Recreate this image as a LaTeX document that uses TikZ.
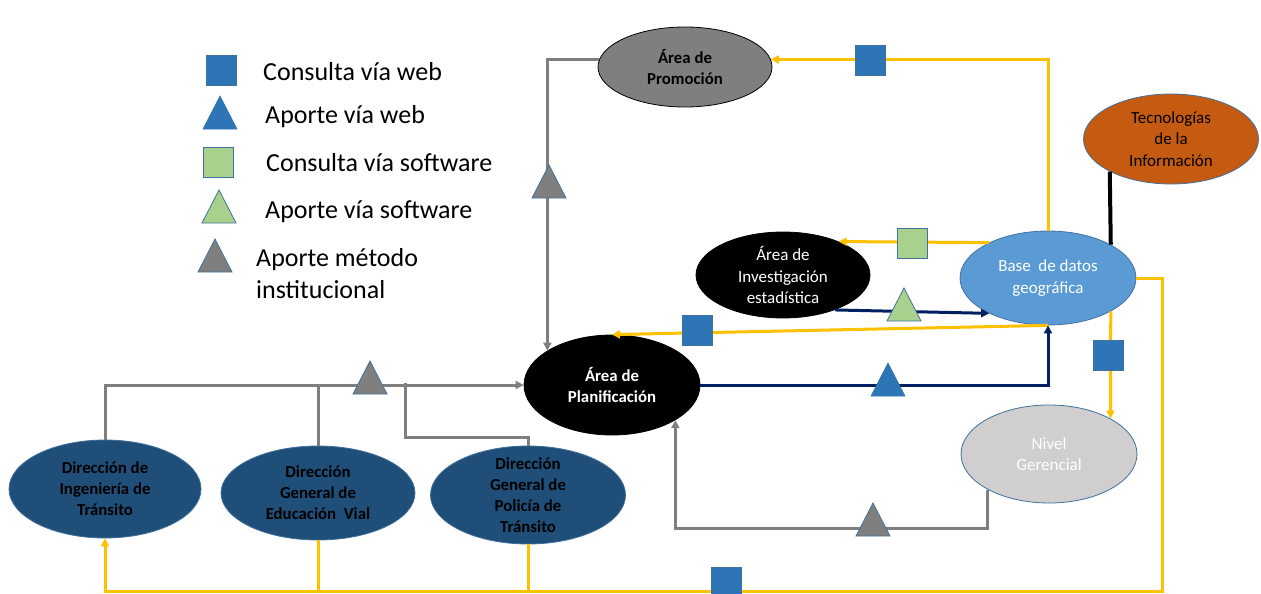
\documentclass[tikz,border=0pt]{standalone}
\usepackage{fontspec}
\setmainfont{Carlito}
\usepackage{tikz}
\usetikzlibrary{arrows.meta,shapes.geometric}

\definecolor{flujo}{HTML}{FFC000}
\definecolor{gris}{HTML}{7F7F7F}
\definecolor{marino}{HTML}{002060}
\definecolor{azulweb}{HTML}{2E75B6}
\definecolor{verdesw}{HTML}{A9D18E}
\definecolor{bordeazul}{HTML}{41719C}
\definecolor{naranja}{HTML}{C55A11}
\definecolor{celeste}{HTML}{5B9BD5}
\definecolor{grisclaro}{HTML}{D0CECE}
\definecolor{azuldir}{HTML}{1F4E79}

\tikzset{
  unidad/.style={ellipse, draw=bordeazul, line width=0.8pt, inner sep=-12pt, align=center,
    font=\fontsize{17}{21.5}\selectfont},
  negrita/.style={font=\bfseries\fontsize{16.8}{21}\selectfont},
  leyenda/.style={anchor=west, inner sep=0pt, align=left, font=\fontsize{26}{32}\selectfont},
  punta/.style={-{Triangle[length=8pt,width=8pt]}},
  amarilla/.style={draw=flujo, line width=3pt},
  grisf/.style={draw=gris, line width=3pt},
  marina/.style={draw=marino, line width=3pt}
}

\begin{document}
\begin{tikzpicture}[x=1pt,y=-1pt]
\useasboundingbox (0,0) rectangle (1261,594);

% leyenda
\node[leyenda] (lcw) at (263,72) {Consulta vía web};
\node[leyenda] (law) at (265,117) {Aporte vía web};
\node[leyenda] (lcs) at (266,163) {Consulta vía software};
\node[leyenda] (las) at (265,212) {Aporte vía software};
\node[leyenda] (lam) at (256,274) {Aporte método\\institucional};

% unidades
\node[unidad, negrita, fill=gris, draw=black, minimum width=174pt, minimum height=80pt] (promo) at (685,67) {Área de\\Promoción};
\node[unidad, fill=naranja, minimum width=175pt, minimum height=90pt] (tec) at (1171,139) {Tecnologías\\de la\\Información};
\node[unidad, fill=black, draw=black, text=white, minimum width=174pt, minimum height=86pt] (inv) at (783,275) {Área de\\Investigación\\estadística};
\node[unidad, fill=celeste, text=white, minimum width=176pt, minimum height=94pt] (base) at (1048,278) {Base~ de datos\\geográfica};
\node[unidad, negrita, fill=black, draw=black, text=white, minimum width=176pt, minimum height=100pt] (plan) at (612,385) {Área de\\Planificación};
\node[unidad, fill=grisclaro, text=white, minimum width=176pt, minimum height=98pt] (nivel) at (1049,454) {Nivel\\Gerencial};
\node[unidad, negrita, fill=azuldir, minimum width=192pt, minimum height=98pt] (ding) at (105,489) {Dirección de\\Ingeniería de\\Tránsito};
\node[unidad, negrita, fill=azuldir, minimum width=194pt, minimum height=94pt] (deduc) at (318,493) {Dirección\\General de\\Educación~ Vial};
\node[unidad, negrita, fill=azuldir, minimum width=195pt, minimum height=98pt] (dpol) at (528,495) {Dirección\\General de\\Policía de\\Tránsito};

\coordinate (riel) at (0,591);

% flujos
\draw[amarilla, punta] (base.north) |- (promo.5);
\draw[amarilla, punta] (base.149) -- (inv.31);
\draw[marina, punta] (inv.-34) -- (base.211);
\draw[amarilla, punta] (base.south) -- (plan.north);
\draw[marina, punta] (plan.east) -| (base.south);
\draw[black, line width=4pt] (tec.208) -- (base.28);
\draw[amarilla, punta] (base.-28) -- (nivel.30);
\draw[grisf, punta] (nivel.210) -- ++(0,39) -| (plan.-29);
\draw[grisf, punta] (promo.175) -| (plan.152);
\draw[grisf, punta] (ding.north) |- (plan.west);
\draw[grisf] (deduc.north) -- (deduc.north |- plan.west);
\draw[grisf] (dpol.north) -- ++(0,-8) -- ++(-123,0) -- ++(0,-55);
\draw[amarilla, punta] (base.east) -- ++(26,0) |- (riel -| dpol.south) -| (ding.south);
\draw[amarilla] (deduc.south) -- (deduc.south |- riel);
\draw[amarilla] (dpol.south) -- (dpol.south |- riel);

% marcas
\foreach \x/\y in {221/70, 870/60, 697/330, 1108/355, 726/582}
  \filldraw[fill=azulweb, draw=bordeazul, line width=0.6pt] (\x-15,\y-15) rectangle (\x+15,\y+15);
\foreach \x/\y in {218/162, 912/243}
  \filldraw[fill=verdesw, draw=bordeazul, line width=0.8pt] (\x-15,\y-15) rectangle (\x+15,\y+15);
\foreach \x/\y in {220/113, 888/380}
  \filldraw[fill=azulweb, draw=azulweb, line width=0.6pt] (\x-17,\y+16) -- (\x+17,\y+16) -- (\x,\y-17) -- cycle;
\foreach \x/\y in {219/207, 904/305}
  \filldraw[fill=verdesw, draw=bordeazul, line width=0.8pt] (\x-17,\y+16) -- (\x+17,\y+16) -- (\x,\y-17) -- cycle;
\foreach \x/\y in {215/256, 549/182, 370/378, 873/520}
  \filldraw[fill=gris, draw=bordeazul, line width=0.8pt] (\x-17,\y+16) -- (\x+17,\y+16) -- (\x,\y-17) -- cycle;

\end{tikzpicture}
\end{document}
